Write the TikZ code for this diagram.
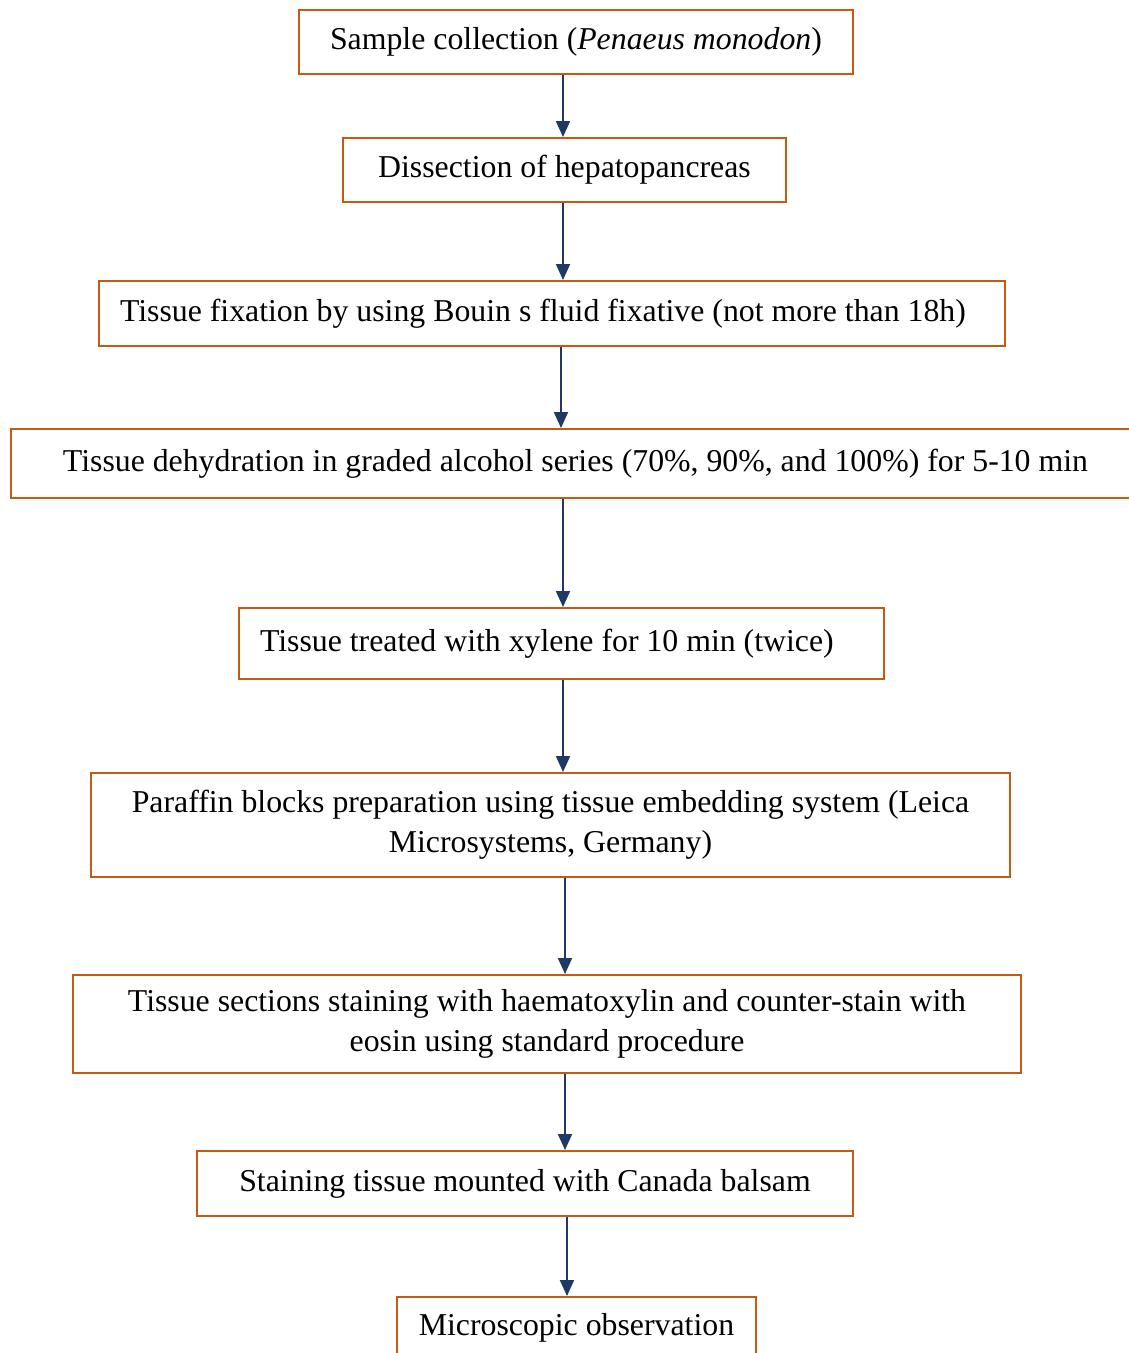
\documentclass[tikz,border=0pt]{standalone}
\usepackage{fontspec}
\setmainfont{Liberation Serif}
\usetikzlibrary{arrows.meta}
\definecolor{boxorange}{RGB}{197,90,17}
\definecolor{arrnavy}{RGB}{31,56,100}

\begin{document}
\begin{tikzpicture}[x=1pt, y=-1pt, font=\fontsize{31.8}{40}\selectfont]
\tikzstyle{every node} = [draw=boxorange, line width=2pt, inner sep=0pt, align=center, fill=white]
\tikzstyle{arr} = [line width=2pt, draw=arrnavy, fill=arrnavy, -{Triangle[length=16pt, width=14pt]}]
\path[use as bounding box, clip] (0,0) rectangle (1129,1353);
% steps
\node[minimum width=554, minimum height=64] (samp) at (576,42) {Sample collection (\textit{Penaeus monodon})};
\node[minimum width=443, minimum height=64] (diss) at (564.5,170) {Dissection of hepatopancreas};
\node[minimum width=906, minimum height=65] (fix) at (552,313.5) {\makebox[864pt][l]{Tissue fixation by using Bouin s fluid fixative (not more than 18h)}};
\node[minimum width=1129, minimum height=69] (dehy) at (575.5,463.5) {Tissue dehydration in graded alcohol series (70\%, 90\%, and 100\%) for 5-10 min};
\node[minimum width=645, minimum height=71] (xyl) at (561.5,643.5) {\makebox[603pt][l]{Tissue treated with xylene for 10 min (twice)}};
\node[minimum width=919, minimum height=104] (para) at (550.5,825) {Paraffin blocks preparation using tissue embedding system (Leica\\Microsystems, Germany)};
\node[minimum width=948, minimum height=98] (sect) at (547,1024) {Tissue sections staining with haematoxylin and counter-stain with\\eosin using standard procedure};
\node[minimum width=656, minimum height=65] (mount) at (525,1183.5) {Staining tissue mounted with Canada balsam};
\node[minimum width=359, minimum height=62] (obs) at (576.5,1328) {Microscopic observation};
% arrows
\draw[arr] (samp.south -| 563,0) -- (diss.north -| 563,0);
\draw[arr] (diss.south -| 563,0) -- (fix.north -| 563,0);
\draw[arr] (fix.south -| 561,0) -- (dehy.north -| 561,0);
\draw[arr] (dehy.south -| 563,0) -- (xyl.north -| 563,0);
\draw[arr] (xyl.south -| 563,0) -- (para.north -| 563,0);
\draw[arr] (para.south -| 565,0) -- (sect.north -| 565,0);
\draw[arr] (sect.south -| 565,0) -- (mount.north -| 565,0);
\draw[arr] (mount.south -| 567,0) -- (obs.north -| 567,0);
\end{tikzpicture}
\end{document}
